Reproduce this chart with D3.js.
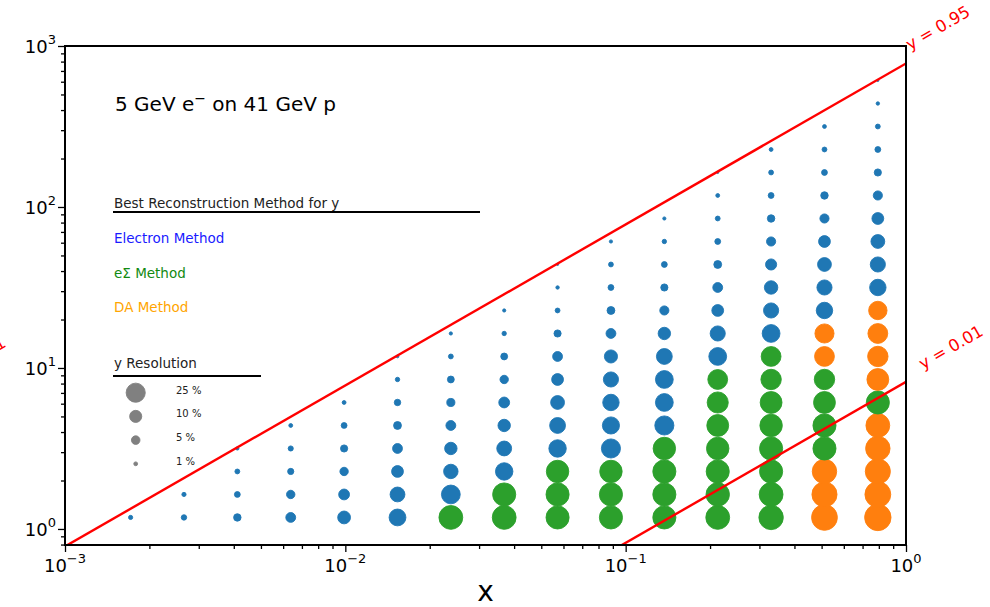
<!DOCTYPE html>
<html>
<head>
<meta charset="utf-8">
<script src="https://cdn.jsdelivr.net/npm/d3@7"></script>
<style>
  body { margin: 0; background: #fff; }
  svg { display: block; font-family: "DejaVu Sans", sans-serif; }
</style>
</head>
<body>
<svg id="chart" width="990" height="607"></svg>
<script>
// Bin centres in Bjorken x (columns) and Q^2 (rows, GeV^2)
const xCenters = [0.001714, 0.002657, 0.004119, 0.006386, 0.009899, 0.01535, 0.02379,
                  0.03687, 0.05716, 0.08861, 0.1374, 0.2130, 0.3302, 0.5119, 0.7935];
const q2Centers = [1.179, 1.638, 2.276, 3.162, 4.394, 6.105, 8.483, 11.79, 16.38, 22.76,
                   31.62, 43.94, 61.05, 84.83, 117.9, 163.8, 227.6, 316.2, 439.4, 610.5];

// y resolution (%) of the best method, per x column, listed from the lowest Q^2 bin upward
const resolution = [
  [1.2],
  [2.0, 1.2],
  [3.8, 2.3, 1.6, 0.7],
  [6.6, 4.8, 2.6, 1.8, 1.0],
  [11.2, 8.0, 4.8, 3.5, 2.3, 1.0],
  [19.3, 15.0, 9.5, 6.6, 4.2, 2.8, 1.3, 0.5],
  [38.7, 24.1, 14.2, 10.5, 6.6, 4.5, 3.2, 1.6, 0.7],
  [38.7, 36.4, 20.7, 15.0, 10.5, 8.0, 4.8, 3.2, 1.3, 0.7],
  [36.4, 36.4, 34.3, 20.7, 17.1, 13.0, 9.5, 6.6, 3.5, 1.6, 0.8, 0.3],
  [36.4, 36.4, 34.3, 24.9, 20.0, 18.4, 15.6, 11.7, 6.6, 4.2, 2.3, 1.6, 0.7],
  [36.4, 36.4, 36.4, 34.3, 24.9, 21.6, 21.6, 17.1, 10.5, 5.7, 3.5, 2.3, 1.3, 0.7],
  [38.7, 37.5, 36.4, 34.3, 32.5, 30.4, 26.8, 21.6, 15.6, 9.5, 6.6, 4.2, 2.3, 1.6, 1.0, 0.3],
  [40.7, 38.7, 36.4, 36.4, 34.3, 32.5, 28.4, 26.8, 21.6, 15.6, 12.3, 8.4, 5.7, 3.8, 2.3, 1.6, 1.0],
  [45.5, 43.0, 40.7, 36.4, 36.4, 32.5, 28.4, 26.8, 24.9, 18.4, 15.6, 13.0, 9.5, 5.7, 3.8, 2.3, 1.6, 1.0],
  [47.6, 45.5, 43.0, 40.7, 38.7, 36.4, 32.5, 28.4, 26.8, 23.1, 18.4, 15.6, 13.0, 9.5, 5.7, 3.5, 2.3, 1.6, 0.8, 0.3]
];

// Best reconstruction method per bin (E = electron, S = e-Sigma, D = double angle)
const bestMethod = [
  "E",
  "EE",
  "EEEE",
  "EEEEE",
  "EEEEEE",
  "EEEEEEEE",
  "SEEEEEEEE",
  "SSEEEEEEEE",
  "SSSEEEEEEEEE",
  "SSSEEEEEEEEEE",
  "SSSSEEEEEEEEEE",
  "SSSSSSSEEEEEEEEE",
  "SSSSSSSSEEEEEEEEE",
  "DDDSSSSDDEEEEEEEEE",
  "DDDDDSDDDDEEEEEEEEEE"
];

const methodNames = ["Electron Method", "e\u03A3 Method", "DA Method"];
const methodKeys = ["E", "S", "D"];
const legendResolutions = [25, 10, 5, 1];

// Kinematic limits: Q^2 = s * x * y
const beamElectron = 5, beamProton = 41;
const inelasticity = [0.95, 0.01];

const xMajorExp = [-3, -2, -1, 0];
const yMajorExp = [0, 1, 2, 3];

// ---------------------------------------------------------------------------
const svg = d3.select("#chart");
const m = { left: 65, right: 906, top: 46, bottom: 545 };

const x = d3.scaleLog().domain([1e-3, 1]).range([m.left, m.right]);
const y = d3.scaleLog().domain([0.795, 1000]).range([m.bottom, m.top]);
const r = d3.scaleSqrt().domain([0, 25]).range([0, 9.57]);

const dotColor = d3.scaleOrdinal().domain(methodKeys).range(["#1f77b4", "#2ca02c", "#ff7f0e"]);
const textColor = d3.scaleOrdinal().domain(methodKeys).range(["#1a1aff", "#128a12", "#ffa500"]);

svg.append("defs").append("clipPath").attr("id", "plotClip")
  .append("rect")
  .attr("x", m.left).attr("y", m.top)
  .attr("width", m.right - m.left).attr("height", m.bottom - m.top);

// Points
const points = [];
resolution.forEach((col, i) => {
  col.forEach((res, k) => {
    points.push({ x: xCenters[i], q2: q2Centers[k], res, method: bestMethod[i][k] });
  });
});

svg.append("g").selectAll("circle")
  .data(points)
  .join("circle")
  .attr("cx", d => x(d.x))
  .attr("cy", d => y(d.q2))
  .attr("r", d => r(d.res))
  .attr("fill", d => dotColor(d.method))
  .attr("stroke", d => dotColor(d.method))
  .attr("stroke-width", 0.9);

// Constant-inelasticity lines
const s = 4 * beamElectron * beamProton;
const line = d3.line().x(d => x(d[0])).y(d => y(d[1]));
const gLines = svg.append("g").attr("clip-path", "url(#plotClip)");
inelasticity.forEach(yy => {
  gLines.append("path")
    .attr("d", line(x.domain().map(xx => [xx, s * xx * yy])))
    .attr("fill", "none")
    .attr("stroke", "#ff0000")
    .attr("stroke-width", 2.4);
});

// Line labels
const lineLabel = (tx, ty, txt, anchor) => svg.append("text")
  .attr("transform", `translate(${tx},${ty}) rotate(-30)`)
  .attr("text-anchor", anchor)
  .attr("fill", "#ff0000")
  .attr("font-size", 16.5)
  .text(txt);
lineLabel(x(1) + 4, y(s * inelasticity[0]) - 13, "y = " + inelasticity[0], "start");
lineLabel(x(1) + 17, y(s * inelasticity[1]) - 12, "y = " + inelasticity[1], "start");
lineLabel(7, 346, "y = 1", "end");

// Axes
const xMajor = xMajorExp.map(e => Math.pow(10, e));
const yMajor = yMajorExp.map(e => Math.pow(10, e));
const minorOf = (exps, dom) => {
  const out = [];
  for (let e = exps[0] - 1; e <= exps[exps.length - 1]; e++)
    for (let k = 2; k <= 9; k++) {
      const v = k * Math.pow(10, e);
      if (v >= dom[0] && v <= dom[1]) out.push(v);
    }
  return out;
};

const gx = svg.append("g").attr("transform", `translate(0,${m.bottom})`);
gx.call(d3.axisBottom(x).tickValues(xMajor).tickSize(7).tickFormat(() => ""));
gx.append("g").call(d3.axisBottom(x).tickValues(minorOf(xMajorExp, x.domain())).tickSize(4).tickFormat(() => ""));
const gy = svg.append("g").attr("transform", `translate(${m.left},0)`);
gy.call(d3.axisLeft(y).tickValues(yMajor).tickSize(7).tickFormat(() => ""));
gy.append("g").call(d3.axisLeft(y).tickValues(minorOf(yMajorExp, y.domain())).tickSize(4).tickFormat(() => ""));
svg.selectAll(".domain").remove();
svg.selectAll(".tick line").attr("stroke", "#000").attr("stroke-width", 1.3);

const expText = e => (e < 0 ? "\u2212" : "") + Math.abs(e);

svg.append("g").selectAll("text")
  .data(xMajorExp)
  .join("text")
  .attr("x", e => x(Math.pow(10, e)))
  .attr("y", m.bottom + 27)
  .attr("text-anchor", "middle")
  .attr("font-size", 18)
  .attr("fill", "#000")
  .each(function (e) {
    const t = d3.select(this);
    t.append("tspan").text("10");
    t.append("tspan").attr("dy", -9).attr("font-size", 13).text(expText(e));
  });

svg.append("g").selectAll("text")
  .data(yMajorExp)
  .join("text")
  .attr("x", m.left - 9)
  .attr("y", e => y(Math.pow(10, e)) + 7)
  .attr("text-anchor", "end")
  .attr("font-size", 18)
  .attr("fill", "#000")
  .each(function (e) {
    const t = d3.select(this);
    t.append("tspan").text("10");
    t.append("tspan").attr("dy", -9).attr("font-size", 13).text(expText(e));
  });

// Frame
svg.append("rect")
  .attr("x", m.left).attr("y", m.top)
  .attr("width", m.right - m.left).attr("height", m.bottom - m.top)
  .attr("fill", "none").attr("stroke", "#000").attr("stroke-width", 2);

// Axis title
svg.append("text")
  .attr("x", (m.left + m.right) / 2).attr("y", 601)
  .attr("text-anchor", "middle").attr("font-size", 28).attr("fill", "#000")
  .text("x");

// Beam configuration
const title = svg.append("text").attr("x", 115).attr("y", 111).attr("font-size", 20).attr("fill", "#000");
title.append("tspan").text(`${beamElectron} GeV e`);
title.append("tspan").attr("dy", -8).attr("font-size", 14).text("\u2212");
title.append("tspan").attr("dy", 8).text(` on ${beamProton} GeV p`);

// Method legend
svg.append("text").attr("x", 114).attr("y", 208).attr("font-size", 13.5).attr("fill", "#222")
  .text("Best Reconstruction Method for y");
svg.append("line").attr("x1", 113).attr("x2", 480).attr("y1", 212).attr("y2", 212)
  .attr("stroke", "#000").attr("stroke-width", 2);
svg.append("g").selectAll("text")
  .data(methodKeys)
  .join("text")
  .attr("x", 114)
  .attr("y", (d, i) => 243 + i * 34.5)
  .attr("font-size", 13.5)
  .attr("fill", d => textColor(d))
  .text((d, i) => methodNames[i]);

// Resolution legend
svg.append("text").attr("x", 114).attr("y", 368).attr("font-size", 13.5).attr("fill", "#222")
  .text("y Resolution");
svg.append("line").attr("x1", 113).attr("x2", 261).attr("y1", 376).attr("y2", 376)
  .attr("stroke", "#000").attr("stroke-width", 2);
const gRes = svg.append("g").selectAll("g")
  .data(legendResolutions)
  .join("g")
  .attr("transform", (d, i) => `translate(0,${392.7 + i * 23.7})`);
gRes.append("circle")
  .attr("cx", 135.7).attr("cy", 0)
  .attr("r", d => r(d))
  .attr("fill", "#808080").attr("stroke", "#808080").attr("stroke-width", 0.9);
gRes.append("text")
  .attr("x", 176).attr("y", 1)
  .attr("font-size", 10).attr("fill", "#222")
  .text(d => `${d} %`);
</script>
</body>
</html>
